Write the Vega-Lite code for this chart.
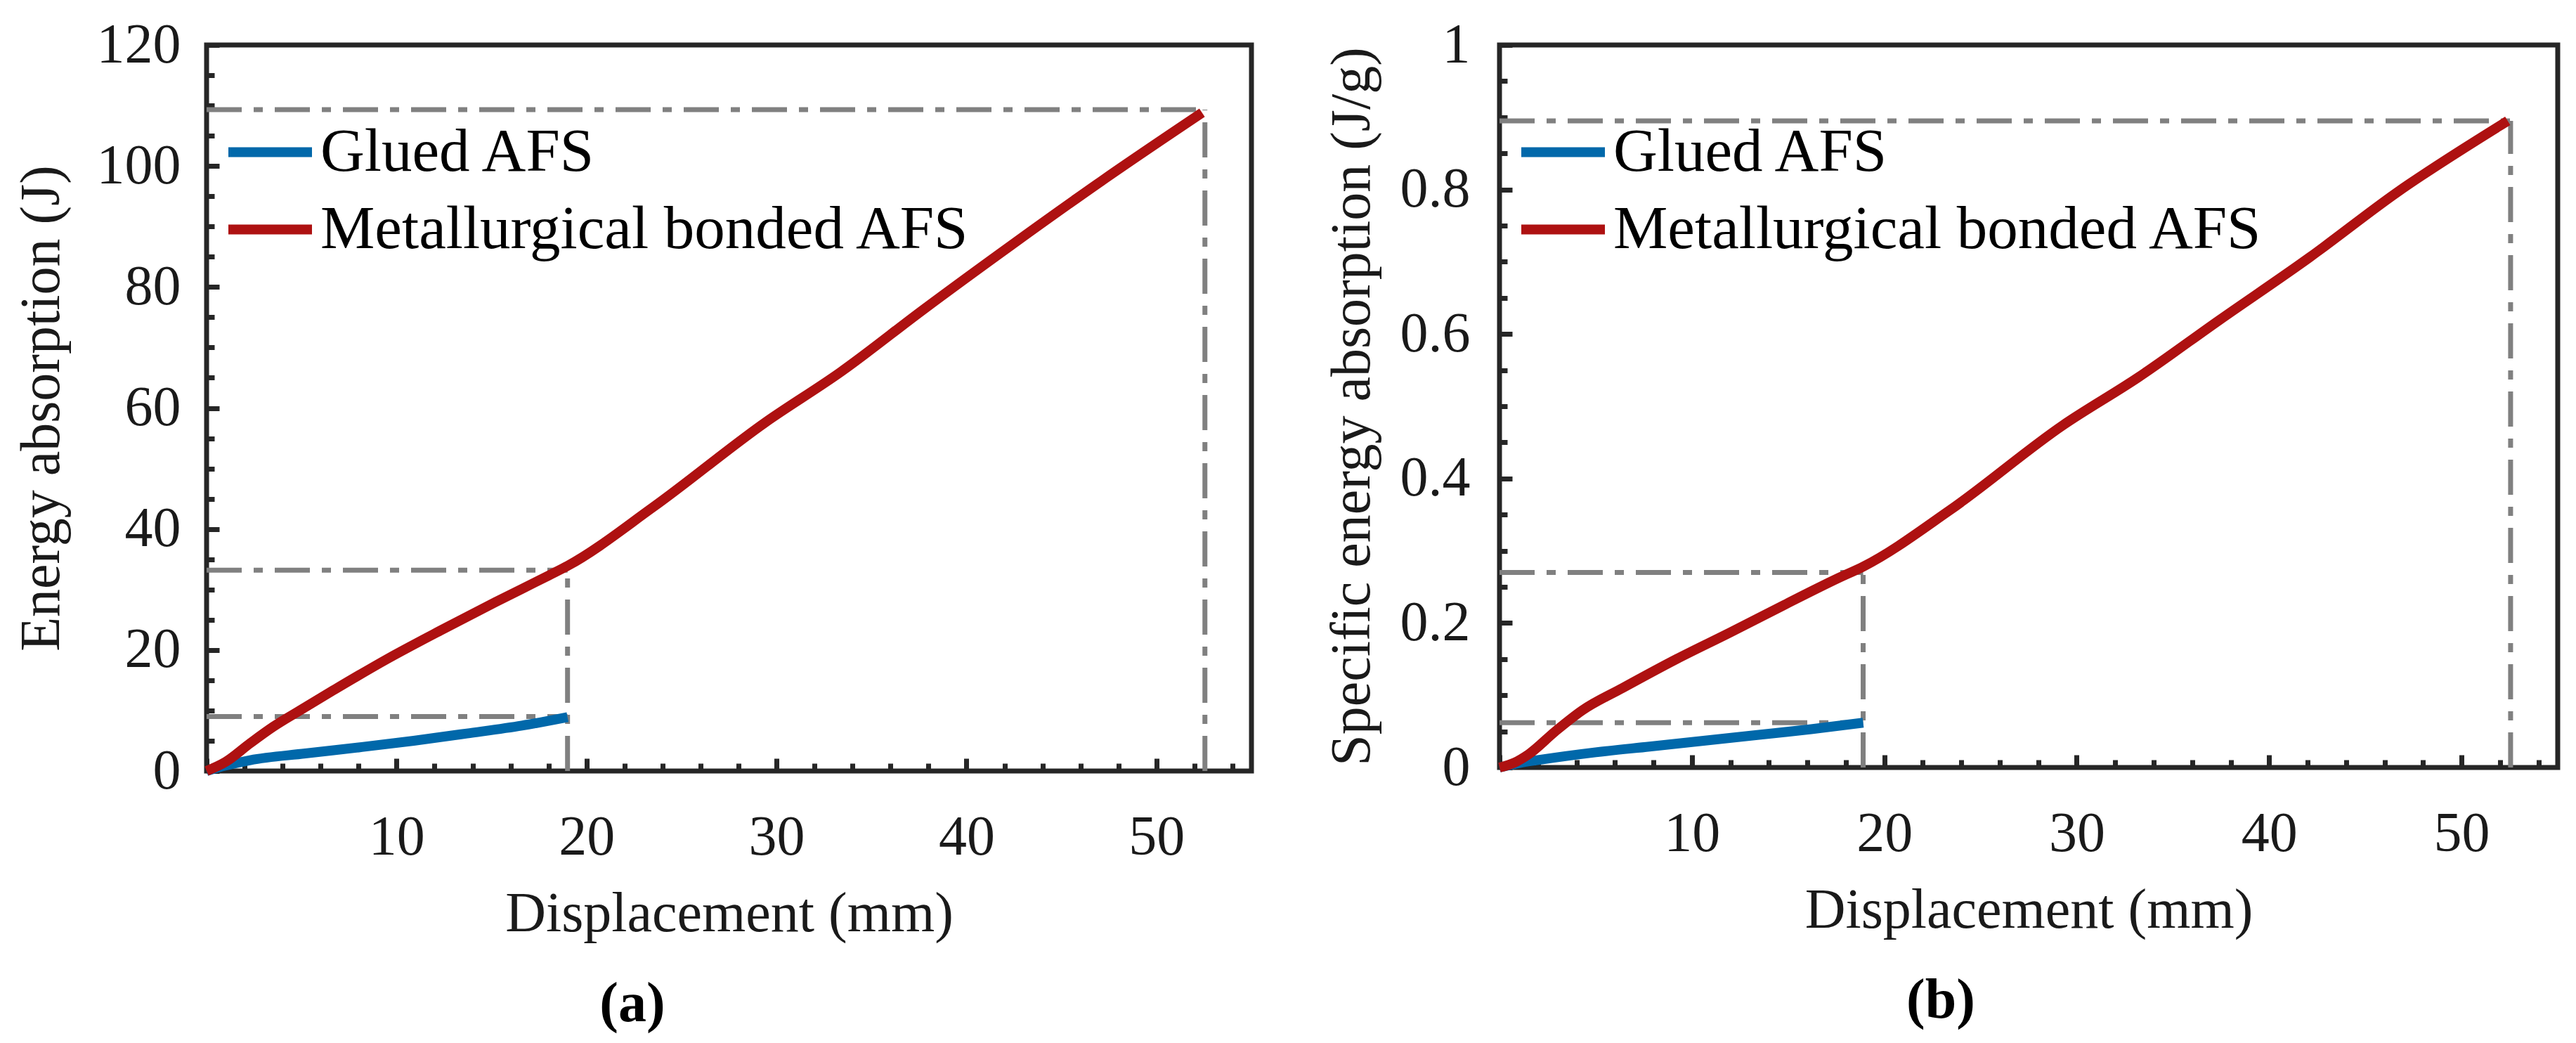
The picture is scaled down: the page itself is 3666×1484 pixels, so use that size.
{
  "$schema": "https://vega.github.io/schema/vega-lite/v6.json",
  "background": "white",
  "padding": {"left": 15, "top": 20, "right": 15, "bottom": 15},
  "config": {
    "font": "Liberation Serif",
    "view": {"stroke": "#262626", "strokeWidth": 7},
    "axis": {
      "grid": false,
      "domain": false,
      "ticks": true,
      "tickColor": "#262626",
      "tickWidth": 7,
      "labelFont": "Liberation Serif",
      "labelFontSize": 80,
      "labelColor": "#1a1a1a",
      "labelFlush": false,
      "labelOverlap": false,
      "titleFont": "Liberation Serif",
      "titleFontSize": 80,
      "titleFontWeight": "normal",
      "titleColor": "#1a1a1a"
    },
    "legend": {
      "orient": "none",
      "legendX": 24,
      "legendY": 86,
      "title": null,
      "symbolType": "stroke",
      "symbolSize": 14161,
      "symbolStrokeWidth": 14,
      "labelFont": "Liberation Serif",
      "labelFontSize": 87,
      "labelColor": "#000000",
      "labelOffset": 5,
      "labelLimit": 0,
      "rowPadding": -16
    },
    "title": {"font": "Liberation Serif", "fontSize": 80, "fontWeight": "bold", "color": "#000000"}
  },
  "datasets": {
    "curves": [
      {"panel": "a", "series": "Glued AFS", "d": 0, "v": 0},
      {"panel": "a", "series": "Glued AFS", "d": 1.0, "v": 0.9},
      {"panel": "a", "series": "Glued AFS", "d": 2.3, "v": 1.8},
      {"panel": "a", "series": "Glued AFS", "d": 5.2, "v": 2.9},
      {"panel": "a", "series": "Glued AFS", "d": 8.0, "v": 3.9},
      {"panel": "a", "series": "Glued AFS", "d": 10.9, "v": 5.0},
      {"panel": "a", "series": "Glued AFS", "d": 13.7, "v": 6.2},
      {"panel": "a", "series": "Glued AFS", "d": 16.6, "v": 7.5},
      {"panel": "a", "series": "Glued AFS", "d": 19.0, "v": 8.9},
      {"panel": "a", "series": "Metallurgical bonded AFS", "d": 0, "v": 0},
      {"panel": "a", "series": "Metallurgical bonded AFS", "d": 1.0, "v": 1.5},
      {"panel": "a", "series": "Metallurgical bonded AFS", "d": 2.3, "v": 4.6},
      {"panel": "a", "series": "Metallurgical bonded AFS", "d": 3.5, "v": 7.3},
      {"panel": "a", "series": "Metallurgical bonded AFS", "d": 4.9, "v": 10.0},
      {"panel": "a", "series": "Metallurgical bonded AFS", "d": 6.6, "v": 13.2},
      {"panel": "a", "series": "Metallurgical bonded AFS", "d": 9.5, "v": 18.5},
      {"panel": "a", "series": "Metallurgical bonded AFS", "d": 12.3, "v": 23.2},
      {"panel": "a", "series": "Metallurgical bonded AFS", "d": 15.2, "v": 27.9},
      {"panel": "a", "series": "Metallurgical bonded AFS", "d": 18.0, "v": 32.3},
      {"panel": "a", "series": "Metallurgical bonded AFS", "d": 19.0, "v": 33.9},
      {"panel": "a", "series": "Metallurgical bonded AFS", "d": 23.5, "v": 43.6},
      {"panel": "a", "series": "Metallurgical bonded AFS", "d": 29.4, "v": 57.6},
      {"panel": "a", "series": "Metallurgical bonded AFS", "d": 33.4, "v": 66.0},
      {"panel": "a", "series": "Metallurgical bonded AFS", "d": 37.7, "v": 76.2},
      {"panel": "a", "series": "Metallurgical bonded AFS", "d": 42.4, "v": 87.0},
      {"panel": "a", "series": "Metallurgical bonded AFS", "d": 47.1, "v": 97.5},
      {"panel": "a", "series": "Metallurgical bonded AFS", "d": 52.4, "v": 108.8},
      {"panel": "b", "series": "Glued AFS", "d": 0, "v": 0},
      {"panel": "b", "series": "Glued AFS", "d": 1.0, "v": 0.006},
      {"panel": "b", "series": "Glued AFS", "d": 2.2, "v": 0.011},
      {"panel": "b", "series": "Glued AFS", "d": 5.0, "v": 0.021},
      {"panel": "b", "series": "Glued AFS", "d": 7.8, "v": 0.029},
      {"panel": "b", "series": "Glued AFS", "d": 10.6, "v": 0.037},
      {"panel": "b", "series": "Glued AFS", "d": 13.4, "v": 0.045},
      {"panel": "b", "series": "Glued AFS", "d": 16.2, "v": 0.053},
      {"panel": "b", "series": "Glued AFS", "d": 18.9, "v": 0.062},
      {"panel": "b", "series": "Metallurgical bonded AFS", "d": 0, "v": 0},
      {"panel": "b", "series": "Metallurgical bonded AFS", "d": 0.8, "v": 0.007},
      {"panel": "b", "series": "Metallurgical bonded AFS", "d": 1.5, "v": 0.018},
      {"panel": "b", "series": "Metallurgical bonded AFS", "d": 2.9, "v": 0.05},
      {"panel": "b", "series": "Metallurgical bonded AFS", "d": 4.3, "v": 0.079},
      {"panel": "b", "series": "Metallurgical bonded AFS", "d": 6.4, "v": 0.110},
      {"panel": "b", "series": "Metallurgical bonded AFS", "d": 9.2, "v": 0.150},
      {"panel": "b", "series": "Metallurgical bonded AFS", "d": 12.0, "v": 0.187},
      {"panel": "b", "series": "Metallurgical bonded AFS", "d": 14.8, "v": 0.225},
      {"panel": "b", "series": "Metallurgical bonded AFS", "d": 17.6, "v": 0.262},
      {"panel": "b", "series": "Metallurgical bonded AFS", "d": 18.9, "v": 0.278},
      {"panel": "b", "series": "Metallurgical bonded AFS", "d": 23.4, "v": 0.356},
      {"panel": "b", "series": "Metallurgical bonded AFS", "d": 29.3, "v": 0.474},
      {"panel": "b", "series": "Metallurgical bonded AFS", "d": 33.2, "v": 0.540},
      {"panel": "b", "series": "Metallurgical bonded AFS", "d": 37.4, "v": 0.619},
      {"panel": "b", "series": "Metallurgical bonded AFS", "d": 42.1, "v": 0.706},
      {"panel": "b", "series": "Metallurgical bonded AFS", "d": 46.7, "v": 0.797},
      {"panel": "b", "series": "Metallurgical bonded AFS", "d": 52.4, "v": 0.895}
    ],
    "refs": [
      {"panel": "a", "x1": 0, "x2": 52.55, "y1": 109.3, "y2": 109.3},
      {"panel": "a", "x1": 52.55, "x2": 52.55, "y1": 0, "y2": 109.3},
      {"panel": "a", "x1": 0, "x2": 19.0, "y1": 33.2, "y2": 33.2},
      {"panel": "a", "x1": 19.0, "x2": 19.0, "y1": 0, "y2": 33.2},
      {"panel": "a", "x1": 0, "x2": 19.0, "y1": 9.0, "y2": 9.0},
      {"panel": "b", "x1": 0, "x2": 52.55, "y1": 0.895, "y2": 0.895},
      {"panel": "b", "x1": 52.55, "x2": 52.55, "y1": 0, "y2": 0.895},
      {"panel": "b", "x1": 0, "x2": 18.9, "y1": 0.27, "y2": 0.27},
      {"panel": "b", "x1": 18.9, "x2": 18.9, "y1": 0, "y2": 0.27},
      {"panel": "b", "x1": 0, "x2": 18.9, "y1": 0.062, "y2": 0.062}
    ]
  },
  "spacing": 95,
  "resolve": {"legend": {"color": "independent"}},
  "hconcat": [
    {
      "width": 1487,
      "height": 1033,
      "title": {"text": "(a)", "orient": "bottom", "anchor": "middle", "frame": "bounds", "offset": 50},
      "resolve": {"axis": {"x": "independent", "y": "independent"}},
      "layer": [
        {
          "data": {"name": "refs"},
          "transform": [{"filter": "datum.panel === 'a'"}],
          "mark": {"type": "rule", "color": "#808080", "strokeWidth": 7, "strokeDash": [50, 17, 13, 17]},
          "encoding": {
            "x": {
              "field": "x1", "type": "quantitative", "scale": {"domain": [0, 55], "nice": false},
              "axis": {"orient": "bottom", "title": null, "labels": false, "offset": -11, "tickSize": 11,
                       "values": [2,4,6,8,12,14,16,18,22,24,26,28,32,34,36,38,42,44,46,48,52,54]}
            },
            "x2": {"field": "x2"},
            "y": {
              "field": "y1", "type": "quantitative", "scale": {"domain": [0, 120], "nice": false},
              "axis": {"orient": "left", "title": null, "labels": false, "offset": -11, "tickSize": 11,
                       "values": [5,10,15,25,30,35,45,50,55,65,70,75,85,90,95,105,110,115]}
            },
            "y2": {"field": "y2"}
          }
        },
        {
          "data": {"name": "curves"},
          "transform": [{"filter": "datum.panel === 'a'"}],
          "mark": {"type": "line", "strokeWidth": 14, "interpolate": "monotone"},
          "encoding": {
            "x": {
              "field": "d", "type": "quantitative",
              "scale": {"domain": [0, 55], "nice": false},
              "axis": {
                "orient": "bottom",
                "title": "Displacement (mm)",
                "values": [0, 10, 20, 30, 40, 50],
                "labelExpr": "datum.value > 0 ? datum.label : ''",
                "offset": -18,
                "tickSize": 18,
                "labelPadding": 55,
                "titlePadding": 30
              }
            },
            "y": {
              "field": "v", "type": "quantitative",
              "scale": {"domain": [0, 120], "nice": false},
              "axis": {
                "orient": "left",
                "title": "Energy absorption (J)",
                "values": [0, 20, 40, 60, 80, 100, 120],
                "offset": -18,
                "tickSize": 18,
                "labelPadding": 37,
                "titlePadding": 37
              }
            },
            "color": {
              "field": "series", "type": "nominal",
              "scale": {"domain": ["Glued AFS", "Metallurgical bonded AFS"], "range": ["#0068AA", "#AE1111"]}
            }
          }
        }
      ]
    },
    {
      "width": 1506,
      "height": 1028,
      "title": {"text": "(b)", "orient": "bottom", "anchor": "middle", "frame": "bounds", "offset": 50},
      "resolve": {"axis": {"x": "independent", "y": "independent"}},
      "layer": [
        {
          "data": {"name": "refs"},
          "transform": [{"filter": "datum.panel === 'b'"}],
          "mark": {"type": "rule", "color": "#808080", "strokeWidth": 7, "strokeDash": [50, 17, 13, 17]},
          "encoding": {
            "x": {
              "field": "x1", "type": "quantitative", "scale": {"domain": [0, 55], "nice": false},
              "axis": {"orient": "bottom", "title": null, "labels": false, "offset": -11, "tickSize": 11,
                       "values": [2,4,6,8,12,14,16,18,22,24,26,28,32,34,36,38,42,44,46,48,52,54]}
            },
            "x2": {"field": "x2"},
            "y": {
              "field": "y1", "type": "quantitative", "scale": {"domain": [0, 1], "nice": false},
              "axis": {"orient": "left", "title": null, "labels": false, "offset": -11, "tickSize": 11,
                       "values": [0.05,0.1,0.15,0.25,0.3,0.35,0.45,0.5,0.55,0.65,0.7,0.75,0.85,0.9,0.95]}
            },
            "y2": {"field": "y2"}
          }
        },
        {
          "data": {"name": "curves"},
          "transform": [{"filter": "datum.panel === 'b'"}],
          "mark": {"type": "line", "strokeWidth": 14, "interpolate": "monotone"},
          "encoding": {
            "x": {
              "field": "d", "type": "quantitative",
              "scale": {"domain": [0, 55], "nice": false},
              "axis": {
                "orient": "bottom",
                "title": "Displacement (mm)",
                "values": [0, 10, 20, 30, 40, 50],
                "labelExpr": "datum.value > 0 ? datum.label : ''",
                "offset": -18,
                "tickSize": 18,
                "labelPadding": 55,
                "titlePadding": 30
              }
            },
            "y": {
              "field": "v", "type": "quantitative",
              "scale": {"domain": [0, 1], "nice": false},
              "axis": {
                "orient": "left",
                "title": "Specific energy absorption (J/g)",
                "values": [0, 0.2, 0.4, 0.6, 0.8, 1],
                "labelExpr": "format(datum.value, '~g')",
                "offset": -18,
                "tickSize": 18,
                "labelPadding": 42,
                "titlePadding": 27
              }
            },
            "color": {
              "field": "series", "type": "nominal",
              "scale": {"domain": ["Glued AFS", "Metallurgical bonded AFS"], "range": ["#0068AA", "#AE1111"]}
            }
          }
        }
      ]
    }
  ]
}
